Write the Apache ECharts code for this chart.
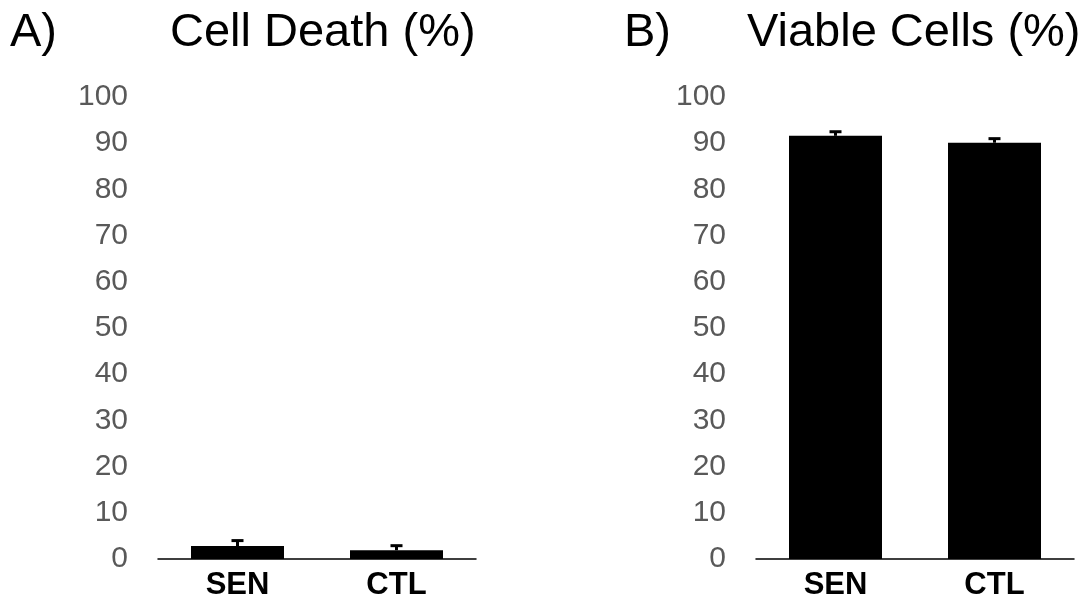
<!DOCTYPE html>
<html>
<head>
<meta charset="utf-8">
<script src="https://cdn.jsdelivr.net/npm/echarts@6/dist/echarts.min.js"></script>
<style>
html,body{margin:0;padding:0;background:#fff;}
#chart{width:1088px;height:614px;}
</style>
</head>
<body>
<div id="chart"></div>
<script>
var categories = ['SEN', 'CTL'];
var yTicks = [0, 10, 20, 30, 40, 50, 60, 70, 80, 90, 100];
var cellDeath = [2.8, 1.9];
var cellDeathErr = [1.4, 1.2];
var viableCells = [91.6, 90.1];
var viableCellsErr = [1.1, 1.1];
var panelLabels = ['A)', 'B)'];
var panelTitles = ['Cell Death (%)', 'Viable Cells (%)'];

var FONT = '"Liberation Sans", Arial, Helvetica, sans-serif';

function errorSeries(idx, values, errs) {
  return {
    type: 'custom',
    xAxisIndex: idx,
    yAxisIndex: idx,
    z: 5,
    data: values.map(function (v, i) { return [i, v, v + errs[i]]; }),
    renderItem: function (params, api) {
      var base = api.coord([api.value(0), api.value(1)]);
      var top = api.coord([api.value(0), api.value(2)]);
      var capHalf = 6;
      return {
        type: 'group',
        children: [
          { type: 'line', shape: { x1: base[0], y1: base[1], x2: top[0], y2: top[1] + 1 },
            style: { stroke: '#000', lineWidth: 3 } },
          { type: 'line', shape: { x1: top[0] - capHalf, y1: top[1] + 1, x2: top[0] + capHalf, y2: top[1] + 1 },
            style: { stroke: '#000', lineWidth: 3 } }
        ]
      };
    }
  };
}

function xAxis(idx) {
  return {
    type: 'category',
    gridIndex: idx,
    data: categories,
    axisLine: { lineStyle: { color: '#000', width: 1.5 } },
    axisTick: { show: false },
    axisLabel: { color: '#000', fontWeight: 'bold', fontSize: 31, fontFamily: FONT, margin: 11 }
  };
}
function yAxis(idx) {
  return {
    type: 'value',
    gridIndex: idx,
    min: yTicks[0],
    max: yTicks[yTicks.length - 1],
    interval: yTicks[1] - yTicks[0],
    axisLine: { show: false },
    axisTick: { show: false },
    splitLine: { show: false },
    axisLabel: { color: '#595959', fontSize: 30, fontFamily: FONT, margin: 30 }
  };
}

var chart = echarts.init(document.getElementById('chart'), null, { renderer: 'canvas' });
chart.setOption({
  backgroundColor: '#fff',
  animation: false,
  grid: [
    { left: 158, right: 612, top: 97, bottom: 55 },
    { left: 756, right: 14, top: 97, bottom: 55 }
  ],
  xAxis: [xAxis(0), xAxis(1)],
  yAxis: [yAxis(0), yAxis(1)],
  graphic: [
    { type: 'text', left: 10, top: 10, style: { text: panelLabels[0], font: '47px ' + FONT, fill: '#000' } },
    { type: 'text', left: 170, top: 10, style: { text: panelTitles[0], font: '47px ' + FONT, fill: '#000' } },
    { type: 'text', left: 624, top: 10, style: { text: panelLabels[1], font: '47px ' + FONT, fill: '#000' } },
    { type: 'text', left: 747, top: 10, style: { text: panelTitles[1], font: '47px ' + FONT, fill: '#000' } }
  ],
  series: [
    { type: 'bar', xAxisIndex: 0, yAxisIndex: 0, data: cellDeath, barWidth: 93,
      itemStyle: { color: '#000' } },
    errorSeries(0, cellDeath, cellDeathErr),
    { type: 'bar', xAxisIndex: 1, yAxisIndex: 1, data: viableCells, barWidth: 93,
      itemStyle: { color: '#000' } },
    errorSeries(1, viableCells, viableCellsErr)
  ]
});
</script>
</body>
</html>
